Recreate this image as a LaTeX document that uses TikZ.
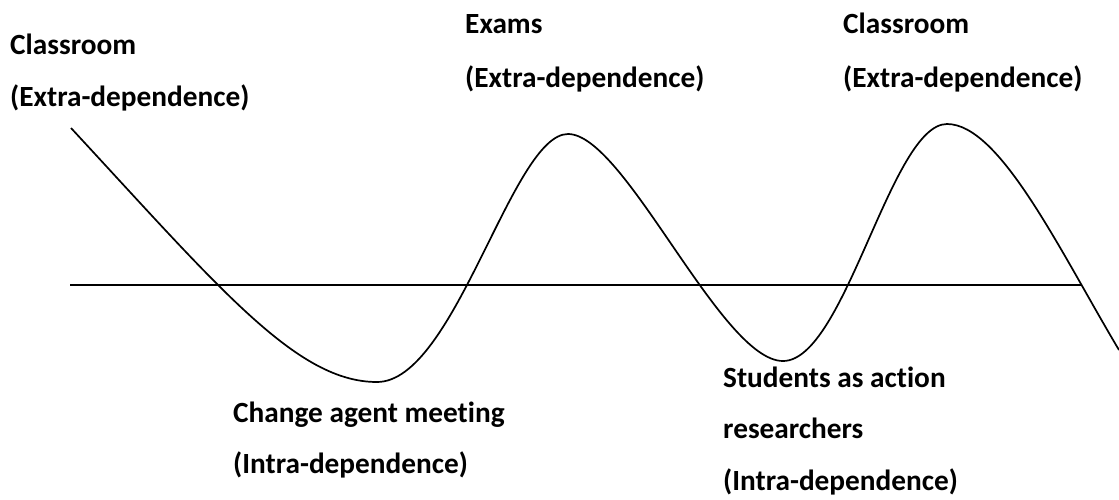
\documentclass[tikz,border=0pt]{standalone}
\usepackage{fontspec}
\setmainfont{Carlito}[Ligatures=NoCommon]
\tikzset{
  lbl/.style={anchor=base west, inner sep=0pt, font=\bfseries\fontsize{29.3}{29.3}\selectfont},
  wave/.style={line width=1.7pt}
}
\begin{document}
\begin{tikzpicture}[x=1pt, y=-1pt]
    \useasboundingbox (0,0) rectangle (1119,499);

    \draw[wave] (70,285) -- (1082,285);
    \draw[wave] (71,128) .. controls (221,290) and (297,382) .. (377,382)
        .. controls (455,382) and (512,134) .. (568,134)
        .. controls (625,134) and (721,361) .. (783,361)
        .. controls (845,361) and (891,124) .. (947,124)
        .. controls (1000,124) and (1060,251) .. (1119,350);

    \node[lbl] (c1) at (10,54) {Classroom};
    \node[lbl] (c1d) at (10,106) {(Extra-dependence)};
    \node[lbl] (ex) at (465,33) {Exams};
    \node[lbl] (exd) at (465,87) {(Extra-dependence)};
    \node[lbl] (c2) at (843,33) {Classroom};
    \node[lbl] (c2d) at (843,87) {(Extra-dependence)};
    \node[lbl] (ch) at (233,422) {Change agent meeting};
    \node[lbl] (chd) at (233,473) {(Intra-dependence)};
    \node[lbl] (st) at (723,387) {Students as action};
    \node[lbl] (st2) at (723,438) {researchers};
    \node[lbl] (std) at (723,490) {(Intra-dependence)};
\end{tikzpicture}
\end{document}
